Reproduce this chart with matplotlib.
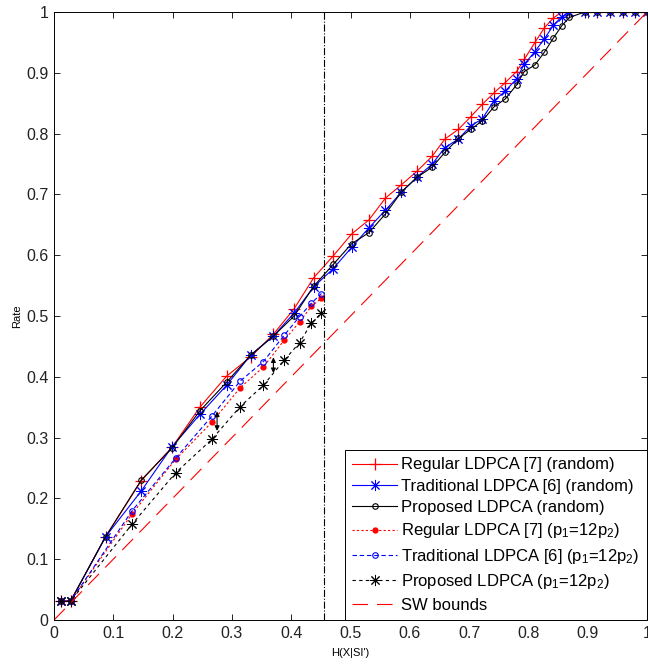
import matplotlib
matplotlib.use("Agg")
import matplotlib.pyplot as plt

plt.rcParams["font.family"] = ["Liberation Sans", "DejaVu Sans"]
plt.rcParams["mathtext.fontset"] = "custom"
plt.rcParams["mathtext.rm"] = "Liberation Sans"
plt.rcParams["mathtext.it"] = "Liberation Sans:italic"

# H(X|SI') for the random-error runs
h_rand = [0.011, 0.028, 0.087, 0.147, 0.199, 0.246, 0.291, 0.332, 0.370, 0.405,
          0.438, 0.471, 0.502, 0.531, 0.559, 0.586, 0.612, 0.638, 0.659, 0.682,
          0.703, 0.722, 0.742, 0.761, 0.780, 0.793, 0.811, 0.827, 0.842, 0.856,
          0.869, 0.895, 0.916, 0.937, 0.959, 0.980, 1.0]
regular_rand = [0.031, 0.031, 0.137, 0.229, 0.284, 0.350, 0.401, 0.433, 0.470, 0.512,
                0.563, 0.599, 0.635, 0.658, 0.694, 0.716, 0.738, 0.763, 0.791, 0.807,
                0.828, 0.848, 0.867, 0.884, 0.902, 0.922, 0.950, 0.974, 0.990, 1.0,
                1.0, 1.0, 1.0, 1.0, 1.0, 1.0, 1.0]
traditional_rand = [0.031, 0.031, 0.137, 0.212, 0.285, 0.338, 0.386, 0.436, 0.467, 0.505,
                    0.548, 0.578, 0.613, 0.645, 0.674, 0.704, 0.728, 0.750, 0.777, 0.791,
                    0.813, 0.824, 0.854, 0.870, 0.890, 0.914, 0.935, 0.956, 0.978, 0.992,
                    1.0, 1.0, 1.0, 1.0, 1.0, 1.0, 1.0]
proposed_rand = [0.031, 0.031, 0.137, 0.230, 0.283, 0.344, 0.391, 0.436, 0.467, 0.500,
                 0.549, 0.585, 0.619, 0.637, 0.668, 0.704, 0.728, 0.745, 0.769, 0.792,
                 0.807, 0.821, 0.844, 0.857, 0.880, 0.902, 0.913, 0.934, 0.957, 0.977,
                 0.991, 1.0, 1.0, 1.0, 1.0, 1.0, 1.0]

# H(X|SI') for the p1=12p2 runs
h_p12 = [0.011, 0.028, 0.132, 0.205, 0.266, 0.314, 0.353, 0.388, 0.414, 0.434, 0.451]
regular_p12 = [0.031, 0.031, 0.175, 0.264, 0.325, 0.382, 0.416, 0.460, 0.490, 0.516, 0.529]
traditional_p12 = [0.031, 0.031, 0.180, 0.266, 0.335, 0.393, 0.425, 0.468, 0.499, 0.521, 0.537]
proposed_p12 = [0.031, 0.031, 0.158, 0.242, 0.297, 0.351, 0.386, 0.427, 0.456, 0.488, 0.505]

sw_x = [0.0, 1.0]
sw_y = [0.0, 1.0]

h_marker = 0.455          # vertical dash-dot line
arrow_x = [0.275, 0.370]
arrow_hi = [0.343, 0.432]
arrow_lo = [0.311, 0.406]

ticks = [0, 0.1, 0.2, 0.3, 0.4, 0.5, 0.6, 0.7, 0.8, 0.9, 1]
tick_labels = ["0", "0.1", "0.2", "0.3", "0.4", "0.5", "0.6", "0.7", "0.8", "0.9", "1"]

fig = plt.figure(figsize=(6.48, 6.65), dpi=100)
ax = fig.add_axes([54 / 648, 45 / 665, 593 / 648, 608 / 665])

lw = 0.8
star = (8, 2, 0)  # matlab-style asterisk
ax.plot(h_rand, regular_rand, "-", color="red", lw=lw, marker="+", ms=9, mew=0.9,
        label="Regular LDPCA [7] (random)")
ax.plot(h_rand, traditional_rand, "-", color="blue", lw=lw, marker=star, ms=8, mew=0.7,
        label="Traditional LDPCA [6] (random)")
ax.plot(h_rand, proposed_rand, "-", color="black", lw=lw, marker="o", ms=4, mfc="none", mew=0.8,
        label="Proposed LDPCA (random)")
ax.plot(h_p12, regular_p12, color="red", lw=lw, ls=(0, (2, 2)), marker=".", ms=7,
        label="Regular LDPCA [7] (p$_1$=12p$_2$)")
ax.plot(h_p12, traditional_p12, color="blue", lw=lw, ls=(0, (4, 2.5)), marker="o", ms=4,
        mfc="none", mew=0.8, label="Traditional LDPCA [6] (p$_1$=12p$_2$)")
ax.plot(h_p12, proposed_p12, color="black", lw=lw, ls=(0, (3, 3)), marker=star, ms=8, mew=0.7,
        label="Proposed LDPCA (p$_1$=12p$_2$)")
ax.plot(sw_x, sw_y, color="red", lw=lw, ls=(0, (14, 8)), label="SW bounds")

ax.axvline(h_marker, color="black", lw=lw, ls="-.")

for xa, lo, hi in zip(arrow_x, arrow_lo, arrow_hi):
    ax.annotate("", xy=(xa, lo), xytext=(xa, hi),
                arrowprops=dict(arrowstyle="<|-|>", color="black", lw=0.8,
                                mutation_scale=7, shrinkA=0, shrinkB=0))

ax.set_xlim(0, 1)
ax.set_ylim(0, 1)
ax.set_xticks(ticks)
ax.set_xticklabels(tick_labels)
ax.set_yticks(ticks)
ax.set_yticklabels(tick_labels)
ax.tick_params(direction="in", top=True, right=True, length=4.5, width=0.6,
               labelsize=11.5, labelcolor="#222222", pad=4)
for s in ax.spines.values():
    s.set_linewidth(0.7)

ax.set_xlabel("H(X|SI')", fontsize=8, labelpad=5)
ax.set_ylabel("Rate", fontsize=8, labelpad=3)

leg = ax.legend(loc="lower right", borderaxespad=0, fontsize=12, numpoints=1,
                handlelength=2.7, handletextpad=0.25, labelspacing=0.38,
                fancybox=False, framealpha=1, edgecolor="black", borderpad=0.45)
leg.get_frame().set_linewidth(0.7)

fig.savefig("out.png", dpi=100)
